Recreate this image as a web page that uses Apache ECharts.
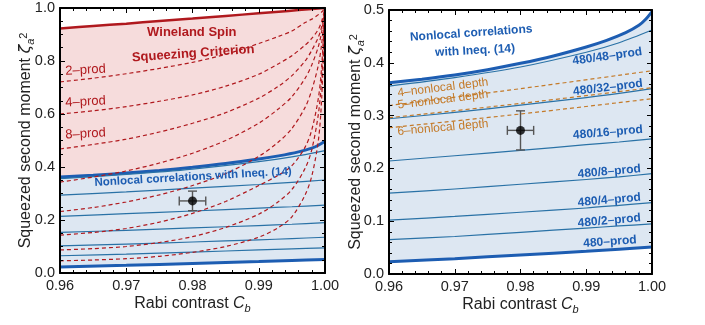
<!DOCTYPE html>
<html><head><meta charset="utf-8">
<script src="https://cdn.jsdelivr.net/npm/echarts@6/dist/echarts.min.js"></script>
<style>html,body{margin:0;padding:0;background:#fff}#c{width:705px;height:325px}</style>
</head><body><div id="c"></div>
<script>
// ---------------- data ----------------
const xTicks = [0.96, 0.97, 0.98, 0.99, 1.00];
const leftYTicks = [0.0, 0.2, 0.4, 0.6, 0.8, 1.0];
const rightYTicks = [0.0, 0.1, 0.2, 0.3, 0.4, 0.5];

// boundary curves
const cBand = [0.96, 0.965, 0.97, 0.975, 0.98, 0.985, 0.99, 0.993, 0.996, 0.998, 0.999, 1.0];
const wineland = [0.923, 0.932, 0.941, 0.951, 0.960, 0.970, 0.980, 0.986, 0.992, 0.996, 0.998, 1.0];
const nonlocalTop = [0.362, 0.369, 0.377, 0.387, 0.399, 0.413, 0.430, 0.442, 0.457, 0.471, 0.482, 0.497];

// 480/k-prod (blue) lines
const cThin = [0.96, 0.97, 0.98, 0.99, 0.995, 1.0];
const prod480_48 = [0.356, 0.372, 0.392, 0.420, 0.438, 0.462];
const prod480_32 = [0.294, 0.306, 0.320, 0.334, 0.342, 0.351];
const prod480_16 = [0.214, 0.224, 0.234, 0.245, 0.250, 0.256];
const prod480_8 = [0.153, 0.161, 0.170, 0.179, 0.184, 0.190];
const prod480_4 = [0.102, 0.109, 0.117, 0.125, 0.130, 0.135];
const prod480_2 = [0.065, 0.071, 0.079, 0.087, 0.091, 0.095];
const prod480_1 = [0.023, 0.029, 0.036, 0.043, 0.047, 0.051];

// k-producibility (red dashed) curves
const cK = [0.96, 0.965, 0.97, 0.975, 0.98, 0.985, 0.99, 0.993, 0.995, 0.997, 0.998, 0.999, 0.9995, 1.0];
const kProd2 = [0.721, 0.735, 0.752, 0.772, 0.795, 0.825, 0.866, 0.893, 0.913, 0.945, 0.958, 0.975, 0.985, 1.0];
const kProd4 = [0.600, 0.612, 0.628, 0.648, 0.672, 0.705, 0.750, 0.790, 0.820, 0.860, 0.885, 0.920, 0.950, 1.0];
const kProd8 = [0.468, 0.485, 0.505, 0.532, 0.565, 0.605, 0.660, 0.705, 0.745, 0.800, 0.840, 0.890, 0.930, 1.0];
const kProd16 = [0.343, 0.362, 0.385, 0.415, 0.452, 0.500, 0.565, 0.620, 0.665, 0.735, 0.785, 0.855, 0.910, 1.0];
const kProd32 = [0.232, 0.247, 0.268, 0.295, 0.330, 0.375, 0.440, 0.495, 0.545, 0.625, 0.690, 0.785, 0.865, 1.0];
const kProd64 = [0.143, 0.153, 0.168, 0.192, 0.225, 0.270, 0.330, 0.370, 0.405, 0.475, 0.540, 0.660, 0.780, 1.0];
const kProd128 = [0.087, 0.092, 0.100, 0.115, 0.137, 0.172, 0.222, 0.270, 0.315, 0.395, 0.465, 0.600, 0.735, 1.0];
const kProd256 = [0.046, 0.049, 0.054, 0.063, 0.078, 0.100, 0.135, 0.172, 0.212, 0.295, 0.365, 0.500, 0.660, 1.0];

// nonlocal depth (orange dashed) lines
const cDepth = [0.96, 0.98, 1.0];
const depth4 = [0.319, 0.351, 0.385];
const depth5 = [0.296, 0.323, 0.353];
const depth6 = [0.277, 0.303, 0.332];

// measured point
const pointC = [0.980];
const pointV = [0.272];
const errC = [0.002];
const errV = [0.037];

// ---------------- styling ----------------
const FONT = '"Liberation Sans", Arial, sans-serif';
const RED = '#b0191e';
const PINK = '#f6dcdc';
const LBLUE = '#dde7f2';
const BLUE = '#1d5db2';
const THIN = '#2a72a6';
const ORANGE = '#c47a28';

function pairs(xs, ys) { return xs.map((x, i) => [x, ys[i]]); }

const chart = echarts.init(document.getElementById('c'));

const grids = [
  { left: 60, top: 8, width: 265, height: 265 },
  { left: 389, top: 10, width: 263, height: 264 }
];

const nameRich = {
  t: { fontSize: 16, fontFamily: FONT, color: '#222', lineHeight: 18, verticalAlign: 'top' },
  i: { fontSize: 16, fontFamily: FONT, color: '#222', lineHeight: 18, verticalAlign: 'top', fontStyle: 'italic' },
  z: { fontSize: 16, fontFamily: 'DejaVu Sans', color: '#222', lineHeight: 18, verticalAlign: 'top', fontStyle: 'italic' },
  s: { fontSize: 11, fontFamily: FONT, color: '#222', lineHeight: 11, verticalAlign: 'bottom', fontStyle: 'italic', padding: [9, 0, 0, 0] },
  p: { fontSize: 11, fontFamily: FONT, color: '#222', lineHeight: 11, verticalAlign: 'top' }
};

function axisCommon(gi) {
  return {
    gridIndex: gi, type: 'value', z: 10,
    axisLine: { show: true, onZero: false, lineStyle: { color: '#000', width: 2 } },
    axisTick: { show: true, inside: true, length: 5, lineStyle: { color: '#000', width: 1 } },
    splitLine: { show: false }, minorSplitLine: { show: false }
  };
}

const xAxes = [], yAxes = [];
[0, 1].forEach(gi => {
  const xb = Object.assign(axisCommon(gi), {
    min: xTicks[0], max: xTicks[xTicks.length - 1], interval: 0.01,
    minorTick: { show: true, splitNumber: 5, length: 3, lineStyle: { color: '#000', width: 1 } }
  });
  xAxes.push(Object.assign({}, xb, {
    position: 'bottom',
    axisLabel: { show: true, margin: 5, fontSize: 14.5, fontFamily: FONT, color: '#222',
      showMinLabel: true, showMaxLabel: true, formatter: v => v.toFixed(2) },
    name: '{t|Rabi contrast }{i|C}{s|b}', nameLocation: 'middle', nameGap: 23, nameMoveOverlap: false,
    nameTextStyle: { rich: nameRich }
  }));
  xAxes.push(Object.assign({}, xb, { position: 'top', axisLabel: { show: false } }));

  const ticks = gi === 0 ? leftYTicks : rightYTicks;
  const yb = Object.assign(axisCommon(gi), {
    min: ticks[0], max: ticks[ticks.length - 1], interval: ticks[1] - ticks[0],
    minorTick: { show: true, splitNumber: gi === 0 ? 4 : 5, length: 3, lineStyle: { color: '#000', width: 1 } }
  });
  yAxes.push(Object.assign({}, yb, {
    position: 'left',
    axisLabel: { show: true, margin: 5, fontSize: 14.5, fontFamily: FONT, color: '#222',
      showMinLabel: true, showMaxLabel: true, formatter: v => v.toFixed(1) },
    name: '{t|Squeezed second moment }{z|ζ}{s|a}{p|2}', nameLocation: 'middle',
    nameGap: gi === 0 ? 24 : 23, nameMoveOverlap: false,
    nameTextStyle: { rich: nameRich }
  }));
  yAxes.push(Object.assign({}, yb, { position: 'right', axisLabel: { show: false } }));
});

function line(ai, xs, ys, color, width, type, z, area) {
  const s = {
    type: 'line', xAxisIndex: ai, yAxisIndex: ai, data: pairs(xs, ys),
    smooth: 0.3, symbol: 'none', silent: true, z: z,
    lineStyle: { color: color, width: width, type: type }
  };
  if (area) s.areaStyle = { color: area, opacity: 1 };
  return s;
}

const series = [];
[0, 2].forEach(ai => {
  const left = ai === 0;
  if (left) series.push(line(ai, cBand, wineland, RED, 2.5, 'solid', 1, PINK));
  series.push(line(ai, cBand, nonlocalTop, BLUE, 3, 'solid', 2, LBLUE));
  series.push(line(ai, cThin, prod480_1, BLUE, 3, 'solid', 3, '#ffffff'));
  [prod480_48, prod480_32, prod480_16, prod480_8, prod480_4, prod480_2].forEach(d =>
    series.push(line(ai, cThin, d, THIN, 1.2, 'solid', 4)));
  if (left) {
    [kProd2, kProd4, kProd8, kProd16, kProd32, kProd64, kProd128, kProd256].forEach(d =>
      series.push(line(ai, cK, d, RED, 1.2, [4, 3], 5)));
  } else {
    [depth4, depth5, depth6].forEach(d =>
      series.push(line(ai, cDepth, d, ORANGE, 1.2, [4, 3], 5)));
  }
  series.push({
    type: 'custom', xAxisIndex: ai, yAxisIndex: ai, z: 8, silent: true,
    data: pointC.map((c, i) => [c, pointV[i], errC[i], errV[i]]),
    renderItem: (params, api) => {
      const x = api.value(0), y = api.value(1), ex = api.value(2), ey = api.value(3);
      const l = api.coord([x - ex, y]), r = api.coord([x + ex, y]);
      const t = api.coord([x, y + ey]), b = api.coord([x, y - ey]);
      const st = { stroke: '#555', lineWidth: 1.4 };
      const cap = 4.5;
      const seg = (x1, y1, x2, y2) => ({ type: 'line', shape: { x1, y1, x2, y2 }, style: st });
      return { type: 'group', children: [
        seg(l[0], l[1], r[0], r[1]), seg(t[0], t[1], b[0], b[1]),
        seg(l[0], l[1] - cap, l[0], l[1] + cap), seg(r[0], r[1] - cap, r[0], r[1] + cap),
        seg(t[0] - cap, t[1], t[0] + cap, t[1]), seg(b[0] - cap, b[1], b[0] + cap, b[1])
      ] };
    }
  });
  series.push({
    type: 'scatter', xAxisIndex: ai, yAxisIndex: ai, z: 9, silent: true,
    data: pairs(pointC, pointV), symbol: 'circle', symbolSize: 9,
    itemStyle: { color: '#000' }
  });
});

chart.setOption({
  animation: false,
  backgroundColor: '#fff',
  grid: grids,
  xAxis: xAxes,
  yAxis: yAxes,
  series: series
});

// ---------------- text annotations (anchored in data space) ----------------
const labels = [
  { g: 0, text: 'Wineland Spin', c: 0.9799, v: 0.906, rot: 0, color: RED, size: 13, bold: true, align: 'center' },
  { g: 0, text: 'Squeezing Criterion', c: 0.9801, v: 0.828, rot: 4, color: RED, size: 13, bold: true, align: 'center' },
  { g: 0, text: '2\u2013prod', c: 0.9608, v: 0.762, rot: 3, color: RED, size: 13, bold: false, align: 'left' },
  { g: 0, text: '4\u2013prod', c: 0.9608, v: 0.642, rot: 3, color: RED, size: 13, bold: false, align: 'left' },
  { g: 0, text: '8\u2013prod', c: 0.9608, v: 0.521, rot: 3, color: RED, size: 13, bold: false, align: 'left' },
  { g: 0, text: 'Nonlocal correlations with Ineq. (14)', c: 0.9801, v: 0.362, rot: 3.3, color: BLUE, size: 11.5, bold: true, align: 'center' },
  { g: 1, text: 'Nonlocal correlations', c: 0.9725, v: 0.456, rot: 4, color: BLUE, size: 12, bold: true, align: 'center' },
  { g: 1, text: 'with Ineq. (14)', c: 0.9731, v: 0.423, rot: 3, color: BLUE, size: 12, bold: true, align: 'center' },
  { g: 1, text: '480/48\u2013prod', c: 0.9932, v: 0.412, rot: 8, color: BLUE, size: 12, bold: true, align: 'center' },
  { g: 1, text: '480/32\u2013prod', c: 0.9933, v: 0.353, rot: 7, color: BLUE, size: 12, bold: true, align: 'center' },
  { g: 1, text: '480/16\u2013prod', c: 0.9933, v: 0.268, rot: 5, color: BLUE, size: 12, bold: true, align: 'center' },
  { g: 1, text: '480/8\u2013prod', c: 0.9935, v: 0.194, rot: 5, color: BLUE, size: 12, bold: true, align: 'center' },
  { g: 1, text: '480/4\u2013prod', c: 0.9935, v: 0.140, rot: 5, color: BLUE, size: 12, bold: true, align: 'center' },
  { g: 1, text: '480/2\u2013prod', c: 0.9935, v: 0.101, rot: 5, color: BLUE, size: 12, bold: true, align: 'center' },
  { g: 1, text: '480\u2013prod', c: 0.9936, v: 0.061, rot: 4, color: BLUE, size: 12, bold: true, align: 'center' },
  { g: 1, text: '4\u2013nonlocal depth', c: 0.9682, v: 0.353, rot: 7, color: ORANGE, size: 12, bold: false, align: 'center' },
  { g: 1, text: '5\u2013nonlocal depth', c: 0.9682, v: 0.330, rot: 7, color: ORANGE, size: 12, bold: false, align: 'center' },
  { g: 1, text: '6\u2013nonlocal depth', c: 0.9682, v: 0.277, rot: 5, color: ORANGE, size: 12, bold: false, align: 'center' }
];

const graphic = labels.map(L => {
  const p = chart.convertToPixel({ gridIndex: L.g }, [L.c, L.v]);
  return {
    type: 'text', x: p[0], y: p[1], rotation: L.rot * Math.PI / 180, z: 50, silent: true,
    style: {
      text: L.text, fill: L.color, fontSize: L.size, fontFamily: FONT,
      fontWeight: L.bold ? 'bold' : 'normal', align: L.align, verticalAlign: 'middle'
    }
  };
});
chart.setOption({ graphic: graphic });
</script>
</body></html>
